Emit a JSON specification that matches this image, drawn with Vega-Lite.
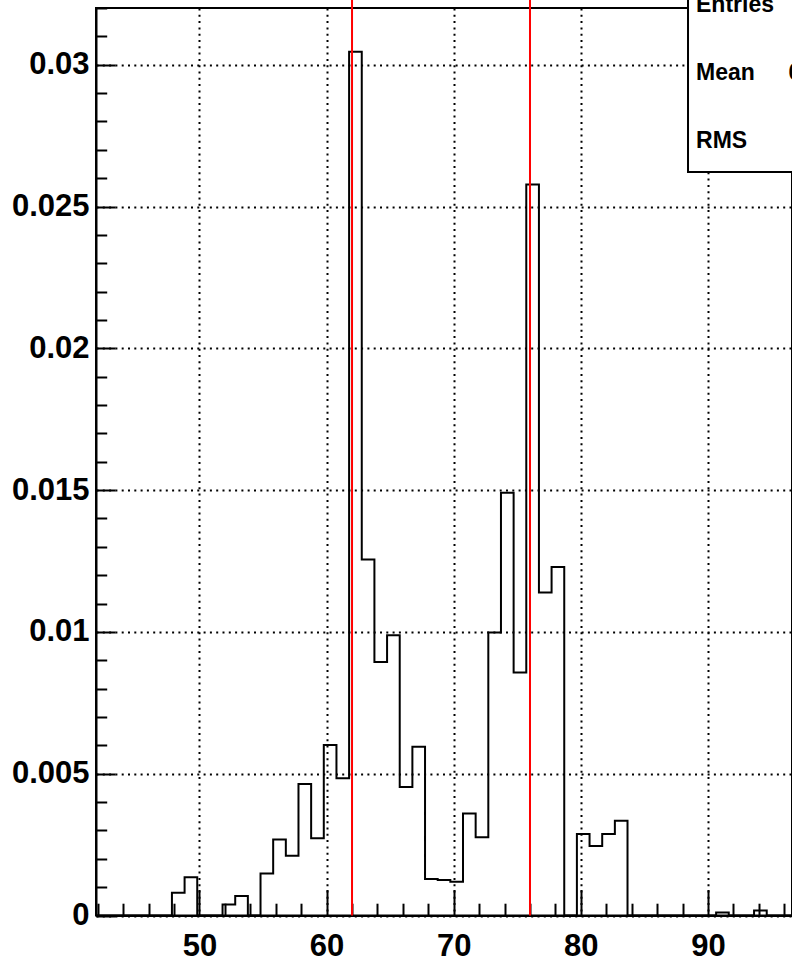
{
  "$schema": "https://vega.github.io/schema/vega-lite/v6.json",
  "width": 696,
  "height": 907.5,
  "autosize": {"type": "none"},
  "padding": {"left": 96, "top": 8, "right": 0, "bottom": 48.5},
  "background": "white",
  "config": {
    "view": {"stroke": "black", "strokeWidth": 2},
    "axis": {
      "labelFont": "Liberation Sans",
      "labelFontWeight": "bold",
      "labelFontSize": 31,
      "labelColor": "black",
      "tickColor": "black",
      "tickWidth": 2,
      "domainColor": "black",
      "domainWidth": 2,
      "title": null
    }
  },
  "datasets": {
    "hist": [
      {"x": 41.860, "v": 0},
      {"x": 42.856, "v": 0},
      {"x": 43.851, "v": 0},
      {"x": 44.847, "v": 0},
      {"x": 45.842, "v": 0},
      {"x": 46.838, "v": 0},
      {"x": 47.833, "v": 0.00080},
      {"x": 48.829, "v": 0.00135},
      {"x": 49.824, "v": 0},
      {"x": 50.820, "v": 0},
      {"x": 51.815, "v": 0.00039},
      {"x": 52.811, "v": 0.00069},
      {"x": 53.806, "v": 0},
      {"x": 54.802, "v": 0.00148},
      {"x": 55.797, "v": 0.00268},
      {"x": 56.793, "v": 0.00211},
      {"x": 57.788, "v": 0.00464},
      {"x": 58.784, "v": 0.00272},
      {"x": 59.779, "v": 0.00601},
      {"x": 60.775, "v": 0.00484},
      {"x": 61.770, "v": 0.03046},
      {"x": 62.766, "v": 0.01255},
      {"x": 63.761, "v": 0.00894},
      {"x": 64.757, "v": 0.00988},
      {"x": 65.752, "v": 0.00453},
      {"x": 66.748, "v": 0.00595},
      {"x": 67.743, "v": 0.00129},
      {"x": 68.739, "v": 0.00125},
      {"x": 69.734, "v": 0.00119},
      {"x": 70.730, "v": 0.00360},
      {"x": 71.725, "v": 0.00276},
      {"x": 72.721, "v": 0.00998},
      {"x": 73.716, "v": 0.01491},
      {"x": 74.712, "v": 0.00857},
      {"x": 75.707, "v": 0.02578},
      {"x": 76.703, "v": 0.01139},
      {"x": 77.698, "v": 0.01229},
      {"x": 78.694, "v": 0},
      {"x": 79.689, "v": 0.00287},
      {"x": 80.685, "v": 0.00245},
      {"x": 81.680, "v": 0.00287},
      {"x": 82.676, "v": 0.00334},
      {"x": 83.671, "v": 0},
      {"x": 84.667, "v": 0},
      {"x": 85.662, "v": 0},
      {"x": 86.658, "v": 0},
      {"x": 87.653, "v": 0},
      {"x": 88.649, "v": 0},
      {"x": 89.644, "v": 0},
      {"x": 90.640, "v": 0.00011},
      {"x": 91.635, "v": 0},
      {"x": 92.631, "v": 0},
      {"x": 93.626, "v": 0.00018},
      {"x": 94.622, "v": 0},
      {"x": 95.617, "v": 0},
      {"x": 96.613, "v": 0}
    ],
    "markers": [{"pos": 62}, {"pos": 76}],
    "one": [{}]
  },
  "resolve": {"axis": {"x": "independent", "y": "independent"}},
  "layer": [
    {
      "data": {"name": "hist"},
      "mark": {"type": "line", "interpolate": "step-after", "color": "black", "strokeWidth": 2},
      "encoding": {
        "x": {
          "field": "x", "type": "quantitative",
          "scale": {"domain": [41.86, 96.61], "nice": false, "zero": false},
          "axis": {
            "orient": "bottom",
            "values": [50, 60, 70, 80, 90],
            "format": "d",
            "tickSize": -26,
            "labelPadding": 42,
            "grid": true,
            "gridColor": "black",
            "gridDash": [2, 4.3],
            "gridWidth": 2,
            "domain": true
          }
        },
        "y": {
          "field": "v", "type": "quantitative",
          "scale": {"domain": [0, 0.032], "nice": false, "zero": true},
          "axis": {
            "orient": "left",
            "values": [0, 0.005, 0.01, 0.015, 0.02, 0.025, 0.03],
            "format": "~g",
            "tickSize": -19,
            "labelPadding": 26,
            "grid": true,
            "gridColor": "black",
            "gridDash": [2, 4.3],
            "gridWidth": 2,
            "domain": true
          }
        }
      }
    },
    {
      "data": {"name": "markers"},
      "mark": {"type": "rule", "color": "#ff0000", "strokeWidth": 2},
      "encoding": {
        "x": {
          "field": "pos", "type": "quantitative",
          "scale": {"domain": [41.86, 96.61], "nice": false, "zero": false},
          "axis": {
            "orient": "bottom",
            "values": [42, 44, 46, 48, 52, 54, 56, 58, 62, 64, 66, 68, 72, 74, 76, 78, 82, 84, 86, 88, 92, 94, 96],
            "tickSize": -12.3,
            "labels": false,
            "grid": false,
            "domain": false
          }
        },
        "y": {
          "datum": 0, "type": "quantitative",
          "scale": {"domain": [0, 0.032], "nice": false, "zero": true},
          "axis": {
            "orient": "left",
            "values": [0.001, 0.002, 0.003, 0.004, 0.006, 0.007, 0.008, 0.009, 0.011, 0.012, 0.013, 0.014, 0.016, 0.017, 0.018, 0.019, 0.021, 0.022, 0.023, 0.024, 0.026, 0.027, 0.028, 0.029, 0.031, 0.032],
            "tickSize": -10.7,
            "labels": false,
            "grid": false,
            "domain": false
          }
        },
        "y2": {"datum": 0.034}
      }
    },
    {
      "data": {"name": "one"},
      "mark": {"type": "rect", "fill": "white", "stroke": "black", "strokeWidth": 2},
      "encoding": {
        "x": {"datum": 88.43, "type": "quantitative", "axis": null, "scale": {"domain": [41.86, 96.61], "nice": false, "zero": false}},
        "x2": {"datum": 99},
        "y": {"datum": 0.02622, "type": "quantitative", "axis": null, "scale": {"domain": [0, 0.032], "nice": false, "zero": true}},
        "y2": {"datum": 0.034}
      }
    },
    {
      "data": {"name": "one"},
      "mark": {"type": "text", "align": "left", "baseline": "alphabetic", "font": "Liberation Sans", "fontWeight": "bold", "fontSize": 23, "color": "black"},
      "encoding": {
        "x": {"datum": 89.06, "type": "quantitative", "axis": null},
        "y": {"datum": 0.03186, "type": "quantitative", "axis": null},
        "text": {"value": "Entries"}
      }
    },
    {
      "data": {"name": "one"},
      "mark": {"type": "text", "align": "left", "baseline": "alphabetic", "font": "Liberation Sans", "fontWeight": "bold", "fontSize": 23, "color": "black"},
      "encoding": {
        "x": {"datum": 89.06, "type": "quantitative", "axis": null},
        "y": {"datum": 0.02946, "type": "quantitative", "axis": null},
        "text": {"value": "Mean"}
      }
    },
    {
      "data": {"name": "one"},
      "mark": {"type": "text", "align": "left", "baseline": "alphabetic", "font": "Liberation Sans", "fontWeight": "bold", "fontSize": 23, "color": "black"},
      "encoding": {
        "x": {"datum": 89.06, "type": "quantitative", "axis": null},
        "y": {"datum": 0.02707, "type": "quantitative", "axis": null},
        "text": {"value": "RMS"}
      }
    },
    {
      "data": {"name": "one"},
      "mark": {"type": "text", "align": "left", "baseline": "alphabetic", "font": "Liberation Sans", "fontWeight": "bold", "fontSize": 23, "color": "black"},
      "encoding": {
        "x": {"datum": 96.34, "type": "quantitative", "axis": null},
        "y": {"datum": 0.02946, "type": "quantitative", "axis": null},
        "text": {"value": "69.16"}
      }
    }
  ]
}
